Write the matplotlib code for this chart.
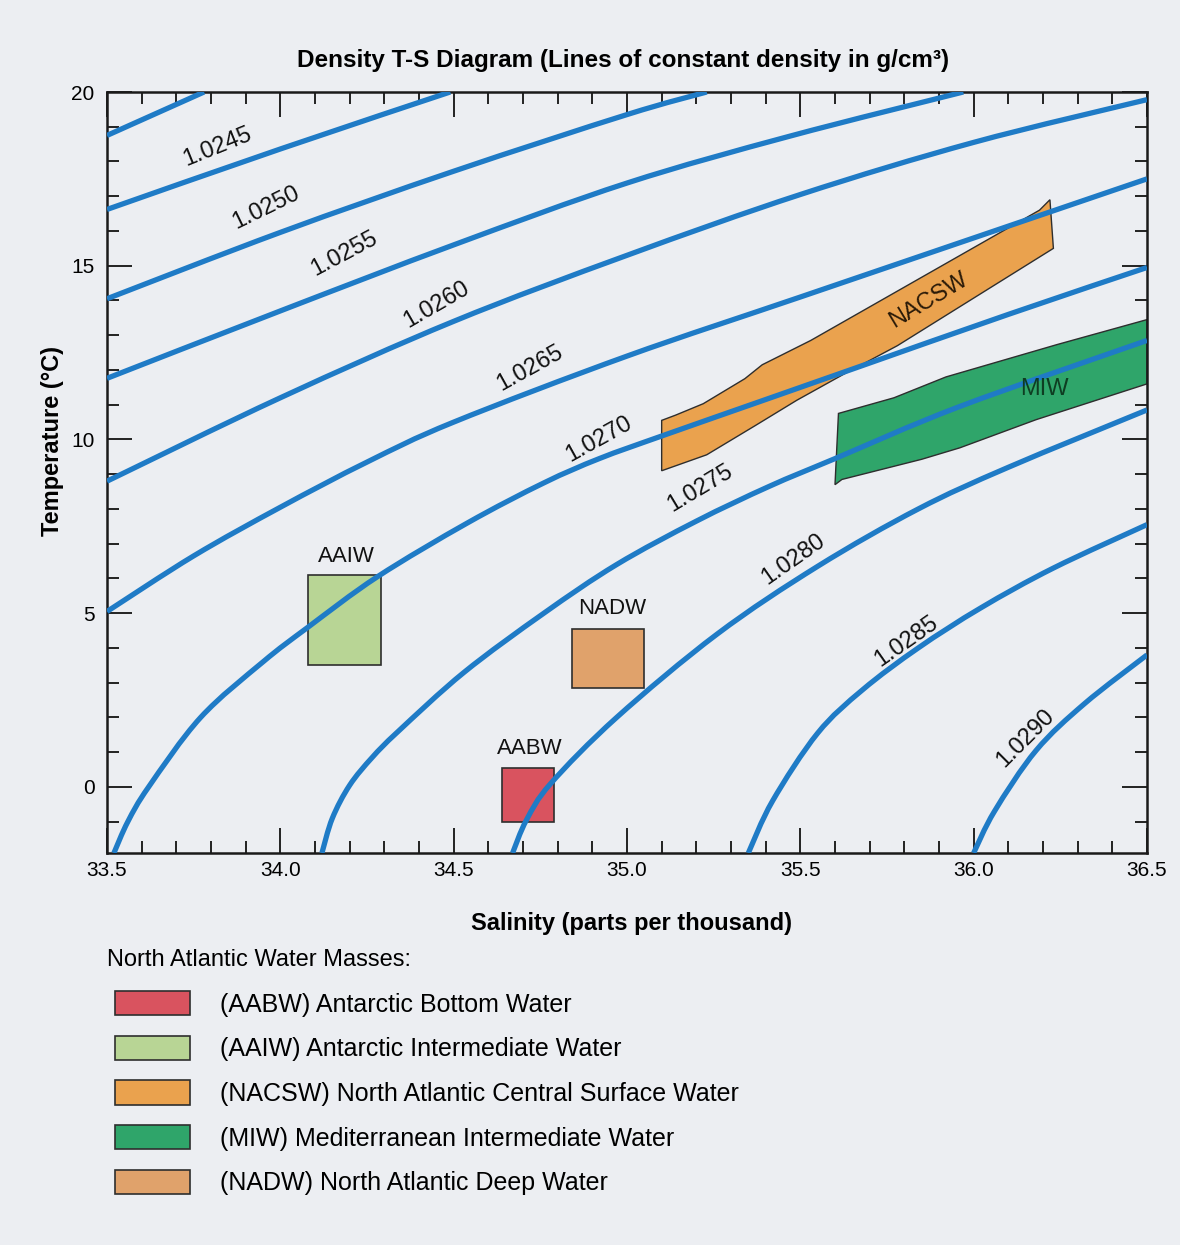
import matplotlib
matplotlib.use("Agg")
import matplotlib.pyplot as plt
from matplotlib.patches import Patch, Polygon, Rectangle, PathPatch
from matplotlib.path import Path
from matplotlib.ticker import MultipleLocator, FormatStrFormatter

plt.rcParams['font.family'] = ['Liberation Sans', 'DejaVu Sans']

# ---- isopycnals: salinity (ppt) and temperature (deg C) along each line ----
density_labels = ["1.0240", "1.0245", "1.0250", "1.0255", "1.0260",
                  "1.0265", "1.0270", "1.0275", "1.0280", "1.0285", "1.0290"]

iso_1_0240_s = [33.50, 33.78]
iso_1_0240_t = [18.75, 20.00]

iso_1_0245_s = [33.50, 34.00, 34.49]
iso_1_0245_t = [16.62, 18.36, 20.00]

iso_1_0250_s = [33.50, 34.00, 34.50, 35.00, 35.23]
iso_1_0250_t = [14.05, 15.96, 17.72, 19.35, 20.00]

iso_1_0255_s = [33.50, 34.00, 34.50, 35.00, 35.47, 35.97]
iso_1_0255_t = [11.76, 13.70, 15.60, 17.38, 18.73, 20.00]

iso_1_0260_s = [33.50, 34.00, 34.50, 35.00, 35.50, 36.00, 36.50]
iso_1_0260_t = [8.80, 11.20, 13.40, 15.30, 17.05, 18.55, 19.78]

iso_1_0265_s = [33.50, 33.75, 34.00, 34.25, 34.50, 35.00, 35.50, 36.00, 36.50]
iso_1_0265_t = [5.05, 6.65, 8.05, 9.35, 10.50, 12.40, 14.10, 15.80, 17.50]

iso_1_0270_s = [33.52, 33.56, 33.62, 33.77, 33.95, 34.08, 34.28, 34.54, 34.76, 34.92,
                35.10, 35.40, 35.66, 36.10, 36.50]
iso_1_0270_t = [-1.90, -1.00, 0.00, 2.00, 3.60, 4.60, 6.05, 7.60, 8.75, 9.45,
                10.10, 11.15, 12.06, 13.60, 14.95]

iso_1_0275_s = [34.12, 34.15, 34.20, 34.265, 34.34, 34.53, 34.76, 34.97, 35.20,
                35.41, 35.60, 35.96, 36.50]
iso_1_0275_t = [-1.90, -0.90, 0.05, 0.85, 1.60, 3.30, 5.00, 6.40, 7.65,
                8.65, 9.45, 10.95, 12.85]

iso_1_0280_s = [34.67, 34.71, 34.78, 34.97, 35.26, 35.55, 35.84, 36.10, 36.50]
iso_1_0280_t = [-1.90, -0.95, 0.10, 2.00, 4.40, 6.35, 8.00, 9.20, 10.85]

iso_1_0285_s = [35.35, 35.42, 35.55, 35.68, 35.84, 36.02, 36.23, 36.50]
iso_1_0285_t = [-1.90, -0.40, 1.55, 2.80, 4.00, 5.15, 6.30, 7.55]

iso_1_0290_s = [36.00, 36.06, 36.18, 36.32, 36.50]
iso_1_0290_t = [-1.90, -0.70, 1.05, 2.40, 3.80]

iso_s = [iso_1_0240_s, iso_1_0245_s, iso_1_0250_s, iso_1_0255_s, iso_1_0260_s,
         iso_1_0265_s, iso_1_0270_s, iso_1_0275_s, iso_1_0280_s, iso_1_0285_s,
         iso_1_0290_s]
iso_t = [iso_1_0240_t, iso_1_0245_t, iso_1_0250_t, iso_1_0255_t, iso_1_0260_t,
         iso_1_0265_t, iso_1_0270_t, iso_1_0275_t, iso_1_0280_t, iso_1_0285_t,
         iso_1_0290_t]

# ---- water masses ----
aabw_s = [34.64, 34.79]
aabw_t = [-1.00, 0.55]
aaiw_s = [34.08, 34.29]
aaiw_t = [3.50, 6.10]
nadw_s = [34.84, 35.05]
nadw_t = [2.85, 4.55]

nacsw_s = [35.10, 35.10, 35.14, 35.22, 35.34, 35.39, 35.53, 36.19, 36.22, 36.23,
           35.78, 35.62, 35.49, 35.37, 35.23]
nacsw_t = [9.10, 10.55, 10.70, 11.03, 11.75, 12.15, 12.85, 16.60, 16.90, 15.50,
           12.70, 11.85, 11.13, 10.40, 9.56]

miw_s = [35.60, 35.61, 35.77, 35.92, 36.24, 36.50, 36.50, 36.18, 35.96, 35.85, 35.62]
miw_t = [8.70, 10.75, 11.20, 11.80, 12.73, 13.45, 11.60, 10.57, 9.76, 9.43, 8.85]

mass_names = ["(AABW) Antarctic Bottom Water",
              "(AAIW) Antarctic Intermediate Water",
              "(NACSW) North Atlantic Central Surface Water",
              "(MIW) Mediterranean Intermediate Water",
              "(NADW) North Atlantic Deep Water"]

# ---- styling ----
BG = '#eceef2'
LINE_BLUE = '#1f7bc6'
EDGE = '#2e2e2e'
C_AABW = '#d9535f'
C_AAIW = '#b8d595'
C_NACSW = '#eaa24e'
C_MIW = '#2fa56a'
C_NADW = '#e0a26b'


def smooth_curve(xs, ys):
    """Cubic Bezier path passing through every point (Catmull-Rom tangents)."""
    pts = list(zip(xs, ys))
    verts = [pts[0]]
    codes = [Path.MOVETO]
    if len(pts) == 2:
        verts.append(pts[1])
        codes.append(Path.LINETO)
        return Path(verts, codes)
    n = len(pts)
    for i in range(n - 1):
        p0 = pts[i - 1] if i > 0 else pts[i]
        p1 = pts[i]
        p2 = pts[i + 1]
        p3 = pts[i + 2] if i + 2 < n else pts[i + 1]
        c1 = (p1[0] + (p2[0] - p0[0]) / 6.0, p1[1] + (p2[1] - p0[1]) / 6.0)
        c2 = (p2[0] - (p3[0] - p1[0]) / 6.0, p2[1] - (p3[1] - p1[1]) / 6.0)
        verts += [c1, c2, p2]
        codes += [Path.CURVE4] * 3
    return Path(verts, codes)


fig = plt.figure(figsize=(11.8, 12.45), dpi=100, facecolor=BG)
ax = fig.add_axes([107 / 1180, 1 - 853 / 1245, 1040 / 1180, 761 / 1245])
ax.set_facecolor(BG)
ax.set_xlim(33.5, 36.5)
ax.set_ylim(-1.9, 20)

# water-mass regions (under the density lines)
ax.add_patch(Polygon(list(zip(nacsw_s, nacsw_t)), closed=True, facecolor=C_NACSW,
                     edgecolor=EDGE, linewidth=1.0, zorder=2))
ax.add_patch(Polygon(list(zip(miw_s, miw_t)), closed=True, facecolor=C_MIW,
                     edgecolor=EDGE, linewidth=1.0, zorder=2))
for s, t, c in [(aabw_s, aabw_t, C_AABW), (aaiw_s, aaiw_t, C_AAIW),
                (nadw_s, nadw_t, C_NADW)]:
    ax.add_patch(Rectangle((s[0], t[0]), s[1] - s[0], t[1] - t[0], facecolor=c,
                           edgecolor=EDGE, linewidth=1.2, zorder=2))

# density lines
for s, t in zip(iso_s, iso_t):
    ax.add_patch(PathPatch(smooth_curve(s, t), fill=False, edgecolor=LINE_BLUE,
                           linewidth=3.8, capstyle='butt', joinstyle='round',
                           zorder=3))

# density labels (the first line carries no label)
label_pos = [None, (33.82, 18.41, 22), (33.96, 16.67, 26), (34.185, 15.34, 28),
             (34.45, 13.88, 30), (34.72, 12.04, 29), (34.92, 10.0, 29),
             (35.21, 8.59, 31), (35.48, 6.55, 35), (35.805, 4.20, 35),
             (36.15, 1.41, 45)]
for lab, pos in zip(density_labels, label_pos):
    if pos is None:
        continue
    x, y, rot = pos
    ax.text(x, y, lab, rotation=rot, rotation_mode='anchor', ha='center',
            va='center', fontsize=17, color='#111111', zorder=4)

# water-mass names
ax.text(34.19, 6.62, "AAIW", ha='center', va='center', fontsize=16, color='#111111')
ax.text(34.956, 5.14, "NADW", ha='center', va='center', fontsize=16, color='#111111')
ax.text(34.72, 1.12, "AABW", ha='center', va='center', fontsize=16, color='#111111')
ax.text(35.87, 14.02, "NACSW", rotation=31, rotation_mode='anchor', ha='center',
        va='center', fontsize=17, color='#2a1a08', zorder=4)
ax.text(36.205, 11.44, "MIW", ha='center', va='center', fontsize=17,
        color='#0e3d22', zorder=4)

# axes, ticks
ax.xaxis.set_major_locator(MultipleLocator(0.5))
ax.xaxis.set_minor_locator(MultipleLocator(0.1))
ax.xaxis.set_major_formatter(FormatStrFormatter('%.1f'))
ax.yaxis.set_major_locator(MultipleLocator(5))
ax.yaxis.set_minor_locator(MultipleLocator(1))
ax.tick_params(which='both', direction='in', top=True, right=True,
               width=1.4, color='#222222')
ax.tick_params(which='major', length=18, labelsize=15)
ax.tick_params(which='minor', length=8.5)
ax.tick_params(axis='x', which='major', pad=6)
ax.tick_params(axis='y', which='major', pad=9)
for sp in ax.spines.values():
    sp.set_linewidth(1.8)
    sp.set_color('#1a1a1a')

ax.set_xlabel("Salinity (parts per thousand)", fontsize=17, fontweight='bold')
ax.xaxis.set_label_coords(0.504, -0.0775)
ax.set_ylabel("Temperature (°C)", fontsize=17, fontweight='bold')
ax.yaxis.set_label_coords(-0.0415, 0.541)
fig.text(623 / 1180, 1 - 60 / 1245,
         "Density T-S Diagram (Lines of constant density in g/cm³)",
         ha='center', va='center', fontsize=17.5, fontweight='bold')

# legend
fig.text(107 / 1180, 1 - 960 / 1245, "North Atlantic Water Masses:",
         ha='left', va='center', fontsize=17)
handles = [Patch(facecolor=c, edgecolor=EDGE, linewidth=1.2)
           for c in [C_AABW, C_AAIW, C_NACSW, C_MIW, C_NADW]]
leg = fig.legend(handles, mass_names, loc='upper left',
                 bbox_to_anchor=(115 / 1180, 1 - 991 / 1245),
                 frameon=False, fontsize=18, borderpad=0, borderaxespad=0,
                 handlelength=3.0, handleheight=1.12, handletextpad=1.2,
                 labelspacing=0.76)

fig.savefig("out.png", dpi=100, facecolor=BG)
